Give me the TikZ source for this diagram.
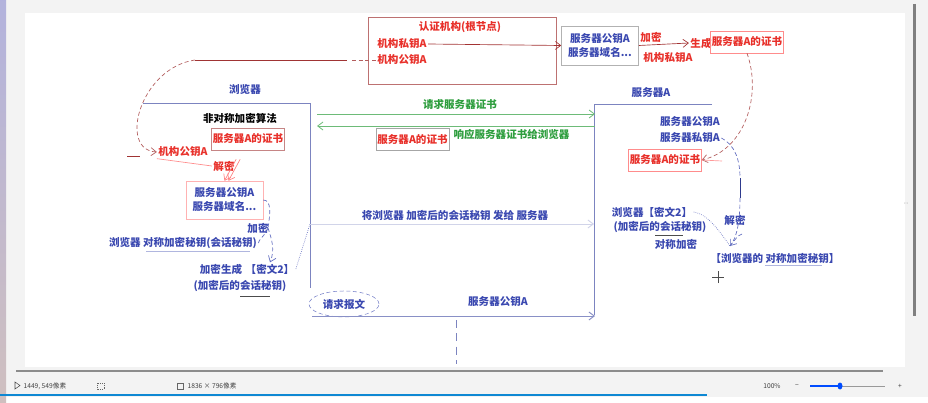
\documentclass[tikz,border=0pt]{standalone}
\usepackage{fontspec}
\setmainfont{Noto Sans CJK SC}
\usetikzlibrary{arrows.meta,shapes.geometric}
\definecolor{txtblue}{HTML}{3A48B0}
\definecolor{txtred}{HTML}{E8302A}
\definecolor{txtgreen}{HTML}{2E9E3E}
\definecolor{laneblue}{HTML}{7C84C0}
\definecolor{darkred}{HTML}{A03434}
\definecolor{paneg}{HTML}{F3F3F3}
\begin{document}
\begin{tikzpicture}[x=0.75pt,y=-0.75pt,
  font=\bfseries\fontsize{7.9}{10.5}\selectfont,
  every node/.style={inner sep=1pt},
  bt/.style={text=txtblue},
  rt/.style={text=txtred},
  gt/.style={text=txtgreen},
  certbox/.style={draw=#1, text=txtred, minimum width=70*0.75pt, minimum height=22*0.75pt},
  lane/.style={draw=laneblue, line width=0.7pt},
  tip/.style={-{Straight Barb[length=4pt,width=6pt]}},
  redline/.style={draw=darkred, line width=0.5pt},
  reddash/.style={draw=darkred!80, line width=0.5pt, densely dashed},
  bluedash/.style={draw=txtblue!80, line width=0.5pt, densely dashed},
  bluedot/.style={draw=txtblue!80, line width=0.5pt, densely dotted},
  greenline/.style={draw=txtgreen!70, line width=0.6pt},
  status/.style={font=\fontsize{5}{6}\selectfont, text=black!75}]

% window background and canvas
\fill[paneg] (0,0) rectangle (928,403);
\fill[white] (25,13) rectangle (905,367);
\fill[white] (0,397) rectangle (928,403);
\shade[top color=black!45!blue!30, bottom color=red!25!black!25] (0,0) rectangle (6,403);
\useasboundingbox (0,0) rectangle (928,403);

% certificate authority
\node[draw=darkred!70, minimum width=188*0.75pt, minimum height=67*0.75pt] (ca) at (462,50.5) {};
\node[rt] (catitle) at (460,27) {认证机构(根节点)};
\node[rt] (capriv) at (402,44) {机构私钥A};
\node[rt] (capub) at (402,60) {机构公钥A};

% server data signed by the authority
\node[draw=black!30, bt, align=center, minimum width=77*0.75pt, minimum height=39*0.75pt] (srvinfo) at (600,45.5) {服务器公钥A\\服务器域名...};
\draw[redline, draw=red!55!black!80, tip] (capriv.east) -- (srvinfo.west);
\node[rt] (enc1) at (651,37) {加密};
\node[rt] (capriv2) at (668,58) {机构私钥A};
\node[rt] (gen) at (701,43) {生成};
\draw[redline, draw=red!55!black!80, tip] (srvinfo.east) -- (gen.west);
\node[certbox=red!45] (cert1) at (747,42) {服务器A的证书};

% authority public key handed to the browser
\coordinate (k0) at (195,60);
\draw[redline] (k0) -- (347,60);
\draw[reddash] (352,60) -- (capub.west);

% browser lane
\node[bt] (bl) at (245,90) {浏览器};
\draw[lane] (143,103) -- (310,103) -- (310,288);
\node (asym) at (240,118) {非对称加密算法};
\node[certbox=darkred!60] (cert2) at (248,139) {服务器A的证书};
\node[rt] (bpub) at (183,152) {机构公钥A};
\draw[reddash,tip] (k0) .. controls (140,68) and (118,150) .. (bpub.west);
\draw[redline] (127,156) -- (140,156);
\node[rt] (dec1) at (224,166) {解密};
\draw[redline, draw=red!45] (bpub.south west) -- (dec1.west);
\node[draw=red!30, bt, align=center, minimum width=77*0.75pt, minimum height=38*0.75pt] (info2) at (224.5,200) {服务器公钥A\\服务器域名...};
\draw[redline, draw=red!50, tip] (dec1.north east) -- (info2.north);
\draw[redline, draw=red!50, tip] ([xshift=3pt]dec1.north east) -- ([xshift=3pt]info2.north);

\node[bt] (enc2) at (258,228) {加密};
\node[bt] (sym) at (183,243) {浏览器 对称加密秘钥(会话秘钥)};
\draw[draw=txtblue!40, line width=0.5pt] (146,251) -- (250,251);
\node[bt] (gen2) at (221,269) {加密生成};
\node[bt] (ct2) at (270,269) {【密文2】};
\node[bt] (ct2b) at (240,286) {(加密后的会话秘钥)};
\draw[draw=black!70, line width=0.6pt] (240,296) -- (270,296);
\draw[bluedash] (info2.east) .. controls (272,200) and (270,215) .. (268,228);
\draw[bluedash] (sym.east) .. controls (258,240) and (265,236) .. (268,228);
\draw[bluedash,tip] (268,228) .. controls (272,240) and (275,250) .. (ct2.north);

% server lane
\node[bt] (sl) at (651,93) {服务器A};
\draw[lane] (712,104) -- (594,104) -- (594,315);
\node[bt] (spub) at (690,122) {服务器公钥A};
\node[bt] (spriv) at (690,138) {服务器私钥A};
\node[certbox=red!45] (cert3) at (665,160) {服务器A的证书};
\draw[reddash,tip] (cert1.south) .. controls (762,95) and (745,150) .. (cert3.east);
\draw[redline, draw=red!40] (cert3.east) -- (722,161);

% certificate request and response
\coordinate (reqL) at (317,114);
\coordinate (reqR) at (595,114);
\node[gt] (req) at (460,104) {请求服务器证书};
\draw[greenline,tip] (reqL) -- (reqR);
\coordinate (respR) at (595,126);
\coordinate (respL) at (317,126);
\draw[greenline,tip] (respR) -- (respL);
\node[certbox=black!35] (cert4) at (412.5,139.5) {服务器A的证书};
\node[gt, anchor=west] (resp) at (452,134) {响应服务器证书给浏览器};

% encrypted session key sent to the server
\coordinate (sendL) at (310,224);
\coordinate (sendR) at (594,224);
\node[bt] (sendt) at (455,215) {将浏览器 加密后的会话秘钥 发给 服务器};
\draw[lane, draw=laneblue!35, tip] (sendL) -- (sendR);
\draw[bluedot] (ct2.east) -- (sendL);

% server decrypts the session key
\node[bt] (ct3) at (652,212) {浏览器【密文2】};
\node[bt] (ct3b) at (660,227) {(加密后的会话秘钥)};
\draw[draw=black!70, line width=0.6pt] (655,235) -- (683,235);
\node[bt] (sym2) at (676,244) {对称加密};
\node[bt] (dec2) at (735,220) {解密};
\coordinate (keyin) at (730,246);
\draw[bluedash] (spriv.east) .. controls (735,145) and (740,160) .. (740,178);
\draw[draw=txtblue!80!black, line width=0.7pt] (740,178) -- (740,198);
\draw[bluedash,tip] (740,198) .. controls (740,225) and (736,238) .. (keyin);
\draw[bluedot] (ct3.east) .. controls (708,214) and (720,232) .. (keyin);
\draw[bluedash] (keyin) -- (738,236) -- (744,233);
\node[bt] (res) at (775,258) {【浏览器的 对称加密秘钥】};
\draw[draw=txtblue!40, line width=0.5pt] (765,265) -- (822,265);

% pointer cross
\coordinate (cur) at (718,277);
\draw[black!70, line width=0.4pt] ([xshift=-4.5pt]cur) -- ([xshift=4.5pt]cur) ([yshift=-4.5pt]cur) -- ([yshift=4.5pt]cur);

% request message
\node[ellipse, draw=txtblue!70, densely dashed, line width=0.4pt, bt, minimum width=70*0.75pt, minimum height=26*0.75pt] (reqmsg) at (344,304) {请求报文};
\node[bt] (bpk) at (498,302) {服务器公钥A};
\coordinate (msgL) at (312,316);
\coordinate (msgR) at (595,316);
\draw[lane, draw=laneblue!90, tip] (msgL) -- (msgR);
\draw[laneblue, line width=0.5pt, dash pattern=on 6pt off 4pt] (456,320) -- (456,364);

% scroll bars and resize grip
\draw[black!50, line width=2.2pt] (914.5,4) -- (914.5,316);
\draw[black!45, line width=2pt] (16,371) -- (883,371);
\coordinate (grip) at (906,203);
\fill[black!45] ([xshift=-0.8pt]grip) circle (0.5) ([xshift=0.8pt]grip) circle (0.5);

% status bar
\draw[black!70, line width=0.4pt] (15,382) -- (15,389) -- (20,385.5) -- cycle;
\node[status, anchor=west] (pos) at (22,386) {1449, 549像素};
\draw[black!60, line width=0.4pt, densely dotted] (97,383) rectangle (104,389);
\draw[black!60, line width=0.4pt] (177,383) rectangle (183,389);
\node[status, anchor=west] (dim) at (186,386) {1836 × 796像素};
\node[status] (zoom) at (772,386) {100\%};
\node[status] (minus) at (797,386) {−};
\draw[black!40, line width=0.6pt] (840,386) -- (885,386);
\draw[blue!70!cyan, line width=1pt] (810,386) -- (840,386);
\fill[blue!70!cyan] (840,386) ellipse (2.5 and 3.5);
\node[status] (plus) at (900,386) {+};
\draw[cyan!70!blue, line width=2.2pt] (0,395) -- (707,395);
\end{tikzpicture}
\end{document}
